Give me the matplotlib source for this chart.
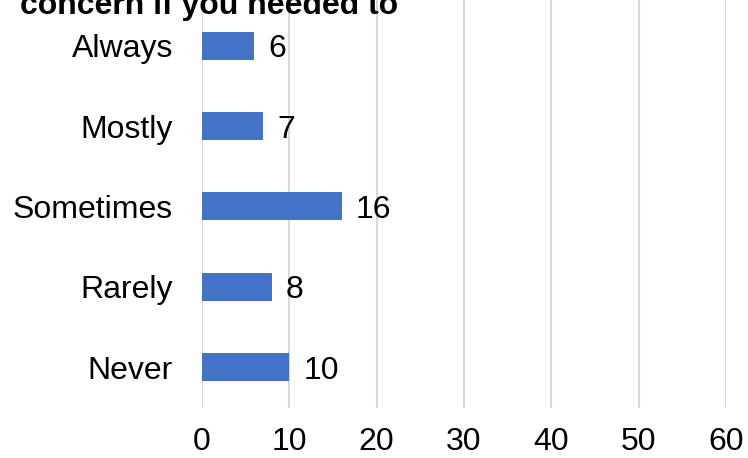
import matplotlib
matplotlib.use("Agg")
import matplotlib.pyplot as plt

categories = ["Never", "Rarely", "Sometimes", "Mostly", "Always"]
values = [10, 8, 16, 7, 6]
xticks = [0, 10, 20, 30, 40, 50, 60]
title_text = "concern if you needed to"

plt.rcParams['font.family'] = ['Liberation Sans', 'DejaVu Sans']
FS = 23

fig = plt.figure(figsize=(7.48, 4.58), dpi=100)
ax = fig.add_axes([202/748, 1 - 408/458, (726 - 202)/748, 408/458])

y = list(range(len(categories)))
ax.barh(y, values, height=0.35, color="#4472C4", zorder=3)
for yi, v in zip(y, values):
    ax.annotate(str(v), xy=(v, yi), xytext=(10, 0), textcoords="offset points",
                va="center_baseline", ha="left", fontsize=FS, color="#000000")

ax.set_xlim(0, 60)
ax.set_ylim(-0.51, 4.57)
ax.set_xticks(xticks)
ax.set_xticklabels([str(t) for t in xticks], fontsize=FS)
ax.set_yticks(y)
ax.set_yticklabels(categories, fontsize=FS)
ax.tick_params(axis="both", length=0)
ax.tick_params(axis="y", pad=21)
ax.tick_params(axis="x", pad=14)
ax.xaxis.grid(True, color="#D9D9D9", linewidth=1.5, zorder=0)
ax.yaxis.grid(False)
for s in ax.spines.values():
    s.set_visible(False)

fig.text(20/748, 1 - 14/458, title_text, fontsize=FS, fontweight="bold",
         ha="left", va="baseline", color="#000000")

fig.savefig("out.png", dpi=100)
